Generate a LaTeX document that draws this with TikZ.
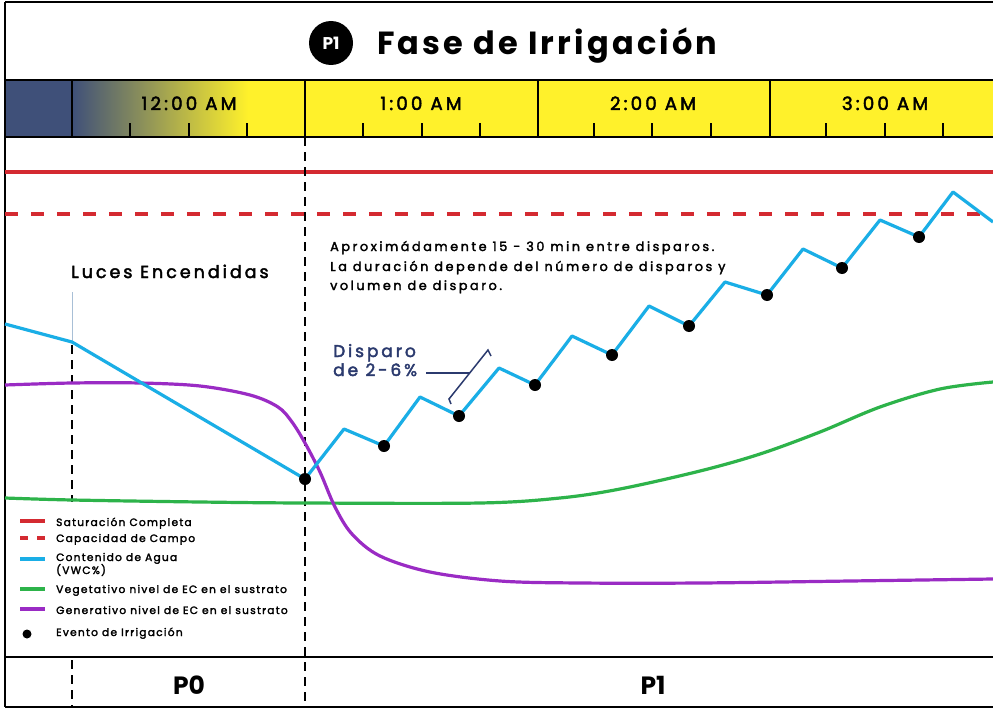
\documentclass[tikz,border=0pt]{standalone}
\usepackage{fontspec}
\setmainfont{Poppins}
\newfontfamily\trk{Poppins}[LetterSpace=17,FakeBold=2.4]
\newfontfamily\trkl{Poppins}[LetterSpace=12,FakeBold=2.4]
\newfontfamily\trkn{Poppins}[LetterSpace=20,FakeBold=2.4]
\newfontfamily\trkt{Poppins}[LetterSpace=10]
\definecolor{navy}{HTML}{3F5079}
\definecolor{ylw}{HTML}{FFF12B}
\definecolor{satred}{HTML}{D42A31}
\definecolor{vwc}{HTML}{1AAEE6}
\definecolor{veg}{HTML}{2DB34A}
\definecolor{gen}{HTML}{9A2BC4}
\definecolor{anno}{HTML}{2B3A6E}
\definecolor{marker}{HTML}{A8BFD6}
\tikzset{
  frame/.style={line width=2pt,black},
  vdash/.style={line width=1.6pt,black,dash pattern=on 9pt off 6pt},
  tick/.style={line width=1.5pt,black},
  timelbl/.style={font=\trk\fontsize{18.3}{18.3}\selectfont,anchor=base,inner sep=0},
  legtxt/.style={font=\trkl\fontsize{10.6}{12}\selectfont,anchor=base west,inner sep=0},
  legline/.style={line width=3.2pt},
  dot/.style={circle,fill=black,inner sep=0,minimum size=12pt},
  curve/.style={line width=3.2pt,line join=round},
  phase/.style={font=\fontsize{25}{25}\selectfont\bfseries,anchor=base,inner sep=0},
}
\begin{document}
\begin{tikzpicture}[x=1pt,y=-1pt]
\useasboundingbox (0,0) rectangle (993,709);
\fill[white] (0,0) rectangle (993,709);

% timeline bar
\fill[ylw] (72,80) rectangle (993,137);
\fill[navy] (5,80) rectangle (72,137);
\shade[left color=navy,right color=ylw] (72,80) rectangle (248,137);
\draw[line width=1.2pt] (72,80) -- (72,137);

% title
\node[circle,fill=black,minimum size=44pt,inner sep=0,text=white,font=\fontsize{17}{17}\selectfont\bfseries] (p1badge) at (331,43) {P1};
\node[anchor=base west,inner sep=0,font=\trkt\fontsize{32}{32}\selectfont\bfseries] (title) at (377,55) {Fase de Irrigación};

% time labels
\node[timelbl] (t0) at (189,110) {12:00 AM};
\node[timelbl] (t1) at (421,110) {1:00 AM};
\node[timelbl] (t2) at (653,110) {2:00 AM};
\node[timelbl] (t3) at (885,110) {3:00 AM};
\foreach \x in {130,189,247,363,422,480,594,652,711,826,885,943}
  \draw[tick] (\x,123) -- (\x,137);
\foreach \x in {305,538,770}
  \draw[line width=1.5pt] (\x,80) -- (\x,137);

% frame lines
\draw[frame] (5,2) -- (993,2);
\draw[frame] (5,80) -- (993,80);
\draw[frame] (5,137) -- (993,137);
\draw[frame] (5,657) -- (993,657);
\draw[frame] (5,707) -- (993,707);
\draw[frame] (5,2) -- (5,707);

% saturation / field capacity
\draw[satred,line width=3.2pt] (5,172) -- (993,172);
\draw[satred,line width=3.2pt,dash pattern=on 13pt off 13pt] (5,214) -- (993,214);

% vertical markers
\draw[vdash] (305,137) -- (305,707);
\draw[vdash] (72,345) -- (72,502);
\draw[vdash] (72,660) -- (72,707);
\draw[marker,line width=1pt] (72,292) -- (72,342);

\node[anchor=base west,inner sep=0,font=\trk\fontsize{17.5}{17.5}\selectfont] (luces) at (71,278) {Luces Encendidas};

% annotation text
\node[anchor=base west,inner sep=0,font=\trkn\fontsize{12.8}{12.8}\selectfont] (a1) at (330,251) {Aproximádamente 15 - 30 min entre disparos.};
\node[anchor=base west,inner sep=0,font=\trkn\fontsize{12.8}{12.8}\selectfont] (a2) at (330,271) {La duración depende del número de disparos y};
\node[anchor=base west,inner sep=0,font=\trkn\fontsize{12.8}{12.8}\selectfont] (a3) at (330,290) {volumen de disparo.};

% green curve
\draw[veg,curve] plot[smooth,tension=0.55] coordinates {(5,498) (72,500) (200,502) (305,503) (480,503) (560,498) (620,489) (700,471) (760,454) (820,432) (880,407) (940,389) (993,382)};

% purple curve
\draw[gen,curve] plot[smooth,tension=0.55] coordinates {(5,385) (72,383) (140,383) (200,386) (250,395) (278,407) (292,422) (305,443) (320,472) (335,507) (352,534) (380,556) (430,572) (500,581) (580,583) (700,583) (850,581) (993,579)};

% VWC line
\coordinate (v0) at (5,324);
\coordinate (v1) at (72,342);
\coordinate (e1) at (305,479);
\coordinate (k1) at (344,429);
\coordinate (e2) at (384,446);
\coordinate (k2) at (420,397);
\coordinate (e3) at (459,416);
\coordinate (k3) at (499,368);
\coordinate (e4) at (535,385);
\coordinate (k4) at (572,336);
\coordinate (e5) at (612,355);
\coordinate (k5) at (649,306);
\coordinate (e6) at (689,326);
\coordinate (k6) at (725,282);
\coordinate (e7) at (767,295);
\coordinate (k7) at (803,249);
\coordinate (e8) at (842,268);
\coordinate (k8) at (880,220);
\coordinate (e9) at (919,237);
\coordinate (k9) at (953,192);
\coordinate (v2) at (993,222);
\draw[vwc,curve] (v0) -- (v1) -- (e1) -- (k1) -- (e2) -- (k2) -- (e3) -- (k3) -- (e4) -- (k4) -- (e5) -- (k5) -- (e6) -- (k6) -- (e7) -- (k7) -- (e8) -- (k8) -- (e9) -- (k9) -- (v2);
\foreach \i in {1,...,9} \node[dot] (d\i) at (e\i) {};

% Disparo annotation
\node[anchor=base west,inner sep=0,text=anno,font=\trk\fontsize{17}{17}\selectfont] (disp1) at (333,357) {Disparo};
\node[anchor=base west,inner sep=0,text=anno,font=\trk\fontsize{17}{17}\selectfont] (disp2) at (333,376) {de 2-6\%};
\coordinate (bA) at (451,404);
\coordinate (bB) at (449,399);
\coordinate (bC) at (488,350);
\coordinate (bD) at (491,356);
\coordinate (bM) at (470,373);
\coordinate (bL) at (426,373);
\draw[anno,line width=1.5pt] (bA) -- (bB) -- (bC) -- (bD);
\draw[anno,line width=1.5pt] (bL) -- (bM);

% legend
\draw[satred,legline] (20,521) -- (45,521);
\node[legtxt] (l1) at (56,526) {Saturación Completa};
\draw[satred,legline] (20,538) -- (28,538);
\draw[satred,legline] (37,538) -- (45,538);
\node[legtxt] (l2) at (56,542) {Capacidad de Campo};
\draw[vwc,legline] (20,559) -- (45,559);
\node[legtxt] (l3) at (56,561) {Contenido de Agua};
\node[legtxt] (l3b) at (56,574) {(VWC\%)};
\draw[veg,legline] (20,589) -- (45,589);
\node[legtxt] (l4) at (56,593) {Vegetativo nivel de EC en el sustrato};
\draw[gen,legline] (20,609) -- (45,609);
\node[legtxt] (l5) at (56,614) {Generativo nivel de EC en el sustrato};
\node[circle,fill=black,inner sep=0,minimum size=9pt] (ldot) at (27,634) {};
\node[legtxt] (l6) at (56,636) {Evento de Irrigación};

% phases
\node[phase] (ph0) at (189,694) {P0};
\node[phase] (ph1) at (653,694) {P1};
\end{tikzpicture}
\end{document}
